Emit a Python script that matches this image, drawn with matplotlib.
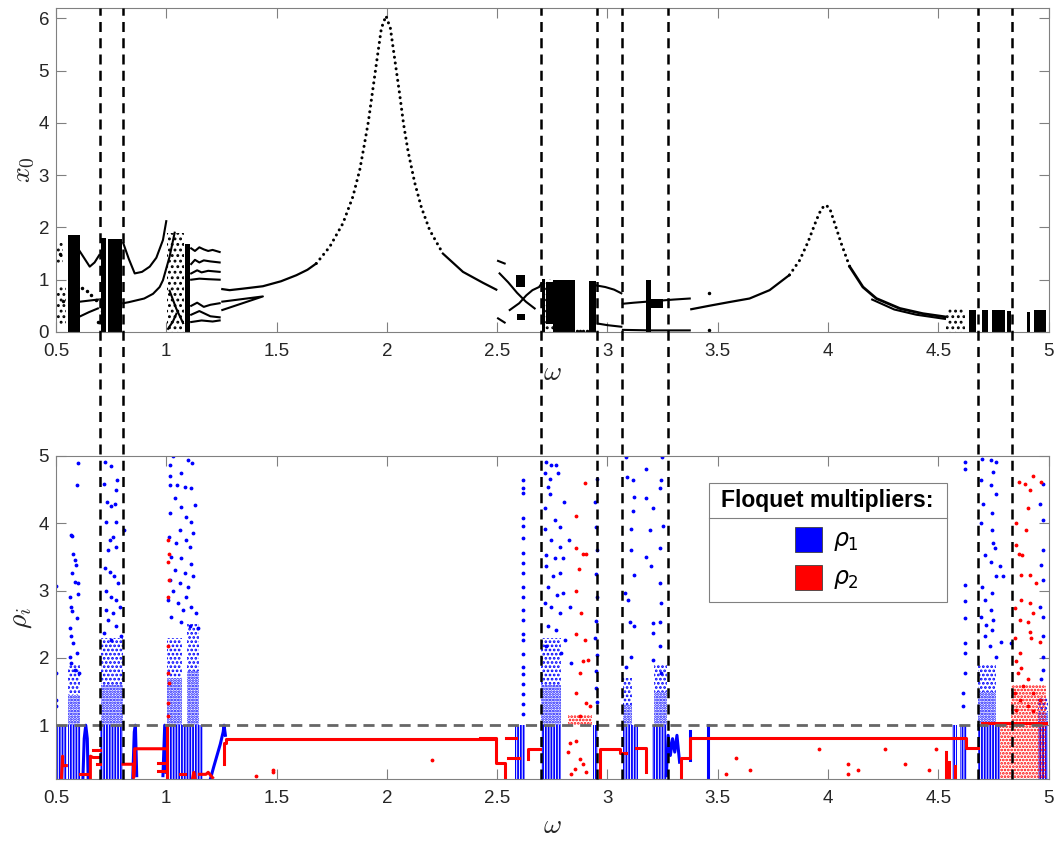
import matplotlib.pyplot as plt
from matplotlib.lines import Line2D
from matplotlib.patches import Rectangle
from matplotlib.transforms import blended_transform_factory

plt.rcParams['font.family'] = ['Liberation Sans', 'DejaVu Sans']
plt.rcParams['mathtext.fontset'] = 'cm'
plt.rcParams['hatch.linewidth'] = 1.3

# ---------------- top panel: x0 versus omega ----------------
# main resonance branch around omega = 2
res1_w = [1.254, 1.287, 1.35, 1.438, 1.52, 1.590, 1.640, 1.680, 1.741, 1.801, 1.846, 1.877,
          1.896, 1.916, 1.936, 1.957, 1.975, 1.996, 2.016, 2.035, 2.057, 2.076, 2.096, 2.126,
          2.156, 2.194, 2.254, 2.345, 2.436, 2.496]
res1_x = [0.82, 0.80, 0.83, 0.875, 0.97, 1.086, 1.19, 1.31, 1.63, 2.08, 2.59, 3.10,
          3.54, 4.02, 4.63, 5.27, 5.81, 6.05, 5.81, 5.24, 4.58, 3.97, 3.46, 2.86,
          2.39, 1.95, 1.50, 1.15, 0.94, 0.81]
# resonance branch around omega = 4
res2_w = [3.380, 3.46, 3.55, 3.644, 3.735, 3.825, 3.871, 3.909, 3.947, 3.970, 3.990, 4.008,
          4.030, 4.060, 4.098, 4.158, 4.219, 4.325, 4.430, 4.529]
res2_x = [0.435, 0.50, 0.57, 0.64, 0.80, 1.09, 1.37, 1.72, 2.14, 2.36, 2.43, 2.36,
          2.08, 1.69, 1.25, 0.86, 0.64, 0.45, 0.35, 0.29]

# smaller periodic branches (omega list, x0 list)
top_branches = [
    ([1.254, 1.438, 1.254], [0.58, 0.68, 0.42]),
    ([0.607, 0.63, 0.653, 0.675, 0.696], [1.55, 1.40, 1.25, 1.33, 1.47]),
    ([0.61, 0.65, 0.69], [0.58, 0.60, 0.62]),
    ([0.61, 0.65, 0.69], [0.30, 0.38, 0.45]),
    ([0.805, 0.83, 0.857, 0.89, 0.925, 0.955, 0.985, 1.0], [1.70, 1.40, 1.12, 1.15, 1.25, 1.42, 1.76, 2.12]),
    ([0.805, 0.83, 0.86, 0.90, 0.94, 0.97, 0.985, 1.015, 1.038], [0.55, 0.57, 0.60, 0.64, 0.73, 0.86, 0.99, 1.44, 1.90]),
    ([1.113, 1.13, 1.15, 1.17, 1.19, 1.21, 1.242], [1.60, 1.55, 1.62, 1.58, 1.55, 1.57, 1.53]),
    ([1.113, 1.13, 1.15, 1.17, 1.20, 1.242], [1.30, 1.38, 1.33, 1.37, 1.35, 1.33]),
    ([1.113, 1.14, 1.16, 1.19, 1.242], [1.12, 1.18, 1.14, 1.17, 1.15]),
    ([1.113, 1.15, 1.19, 1.242], [1.00, 1.02, 1.01, 1.00]),
    ([1.113, 1.14, 1.17, 1.20, 1.242], [0.50, 0.56, 0.48, 0.52, 0.55]),
    ([1.113, 1.15, 1.20, 1.242], [0.33, 0.40, 0.30, 0.28]),
    ([1.113, 1.16, 1.21, 1.242], [0.19, 0.22, 0.20, 0.22]),
    ([1.008, 1.03, 1.046], [0.06, 0.20, 0.35]),
    ([1.015, 1.045, 1.076], [0.79, 0.45, 0.17]),
    ([2.504, 2.534], [1.36, 1.31]),
    ([2.504, 2.534], [0.26, 0.18]),
    ([2.511, 2.55, 2.59, 2.63, 2.67], [1.12, 0.95, 0.75, 0.58, 0.45]),
    ([2.557, 2.60, 2.632, 2.66, 2.69, 2.70], [0.42, 0.55, 0.70, 0.80, 0.86, 0.92]),
    ([2.950, 2.99, 3.03, 3.063], [0.89, 0.86, 0.81, 0.74]),
    ([2.957, 3.00, 3.063], [0.16, 0.13, 0.10]),
    ([3.070, 3.12, 3.18, 3.24, 3.30, 3.373], [0.54, 0.56, 0.58, 0.60, 0.62, 0.64]),
    ([3.070, 3.20, 3.373], [0.04, 0.03, 0.03]),
    ([4.20, 4.30, 4.40, 4.53], [0.62, 0.43, 0.33, 0.25]),
]

# chaotic bands drawn solid: (omega start, omega end, x0 low, x0 high)
top_blocks = [
    (0.554, 0.607, 0.0, 1.85), (0.703, 0.728, 0.0, 1.80), (0.736, 0.800, 0.0, 1.78),
    (1.083, 1.106, 0.0, 1.69), (2.705, 2.716, 0.0, 1.02), (2.722, 2.753, 0.15, 0.95),
    (2.753, 2.851, 0.0, 1.00), (2.916, 2.950, 0.0, 0.97), (3.175, 3.198, 0.0, 1.00),
    (3.198, 3.25, 0.45, 0.64), (2.587, 2.625, 0.86, 1.09), (2.590, 2.625, 0.22, 0.35),
    (4.64, 4.67, 0.0, 0.42), (4.70, 4.725, 0.0, 0.42), (4.745, 4.80, 0.0, 0.42),
    (4.812, 4.828, 0.0, 0.40), (4.90, 4.915, 0.0, 0.38), (4.935, 4.99, 0.0, 0.42),
]
# looser clouds of points
top_clouds = [
    (0.497, 0.530, 1.30, 1.75), (0.497, 0.545, 0.15, 0.90), (1.005, 1.080, 0.0, 1.90),
    (4.536, 4.620, 0.0, 0.45), (2.716, 2.753, 0.0, 1.02),
]
top_pts_w = [3.46, 3.46, 2.86, 2.875, 2.89, 2.905, 0.62, 0.64, 0.66, 0.68, 0.69, 0.71, 0.52, 0.53]
top_pts_x = [0.75, 0.03, 0.02, 0.02, 0.02, 0.02, 0.85, 0.78, 0.70, 0.62, 0.20, 0.40, 1.50, 0.60]

# separating omega values (dashed verticals through both panels)
split_w = [0.701, 0.802, 2.700, 2.954, 3.066, 3.274, 4.680, 4.834]

# ---------------- bottom panel: Floquet multipliers ----------------
red_lines = [
    ([0.525, 0.53, 0.53, 0.547], [0.22, 0.54, 0.40, 0.40]),
    ([0.607, 0.645], [0.28, 0.28]),
    ([0.656, 0.656, 0.668, 0.698], [0.22, 0.54, 0.52, 0.52]),
    ([0.668, 0.698], [0.63, 0.63]),
    ([0.685, 0.698], [0.42, 0.42]),
    ([0.804, 0.852, 0.852, 0.857, 0.857, 0.993], [0.42, 0.42, 0.22, 0.42, 0.65, 0.65]),
    ([0.962, 0.997], [0.44, 0.44]),
    ([0.962, 0.997], [0.32, 0.32]),
    ([1.005, 1.005], [0.22, 1.00]),
    ([1.06, 1.085], [0.27, 0.27]),
    ([1.12, 1.125, 1.13], [0.22, 0.30, 0.22]),
    ([1.15, 1.18, 1.19, 1.21], [0.27, 0.27, 0.30, 0.22]),
    ([1.26, 1.26, 1.272, 1.272, 2.496], [0.42, 0.74, 0.74, 0.80, 0.80]),
    ([2.42, 2.496, 2.496, 2.534, 2.534], [0.81, 0.81, 0.44, 0.44, 0.22]),
    ([2.542, 2.587], [0.81, 0.81]),
    ([2.55, 2.60], [0.52, 0.52]),
    ([2.64, 2.64, 2.693], [0.50, 0.64, 0.64]),
    ([2.965, 2.965, 3.055, 3.055, 3.085], [0.22, 0.64, 0.64, 0.58, 0.58]),
    ([3.131, 3.176, 3.176], [0.66, 0.66, 0.30]),
    ([3.335, 3.335, 3.372, 3.372, 4.551], [0.22, 0.52, 0.52, 0.81, 0.81]),
    ([4.566, 4.627, 4.627, 4.68], [0.81, 0.81, 0.66, 0.66]),
    ([4.536, 4.536], [0.22, 0.60]),
    ([4.55, 4.55], [0.22, 0.45]),
    ([4.575, 4.575], [0.22, 0.40]),
    ([4.70, 4.99], [1.03, 1.03]),
]
blue_lines = [
    ([0.622, 0.628, 0.635, 0.642, 0.646], [0.2, 0.8, 1.0, 0.8, 0.2]),
    ([0.848, 0.855, 0.860, 0.866], [0.2, 0.9, 1.0, 0.25]),
    ([0.985, 0.993, 1.0], [0.25, 1.0, 0.3]),
    ([1.20, 1.215, 1.23, 1.245, 1.258, 1.262, 1.268], [0.2, 0.38, 0.55, 0.72, 0.9, 1.0, 0.85]),
    ([3.267, 3.275, 3.285, 3.295, 3.305, 3.315, 3.327], [0.25, 0.85, 0.55, 0.80, 0.60, 0.85, 0.45]),
    ([3.373, 3.373], [0.49, 0.91]),
    ([3.456, 3.456], [0.22, 1.0]),
]
# dense clouds of multipliers: (omega start, omega end, rho low, rho high)
blue_dense = [
    (0.497, 0.548, 0.2, 1.0), (0.553, 0.612, 0.2, 1.0), (0.700, 0.805, 0.2, 1.0),
    (1.008, 1.165, 0.2, 1.0), (2.58, 2.625, 0.2, 1.0), (2.70, 2.79, 0.2, 1.0),
    (2.935, 2.958, 0.2, 1.0), (3.07, 3.14, 0.2, 1.0), (3.20, 3.27, 0.2, 1.0),
    (4.56, 4.585, 0.2, 1.0), (4.60, 4.63, 0.2, 1.0), (4.68, 4.78, 0.2, 1.0),
    (4.95, 4.995, 0.2, 1.0),
    (0.555, 0.61, 1.0, 1.45), (0.705, 0.805, 1.0, 1.6), (1.005, 1.07, 1.0, 1.7),
    (1.095, 1.15, 1.0, 1.8), (2.70, 2.79, 1.0, 1.6), (3.07, 3.11, 1.0, 1.3),
    (3.21, 3.27, 1.0, 1.5), (4.68, 4.76, 1.0, 1.5), (4.95, 4.995, 1.0, 1.2),
]
blue_sparse = [
    (0.555, 0.61, 1.45, 1.9), (0.705, 0.805, 1.6, 2.3), (1.005, 1.07, 1.7, 2.3),
    (1.095, 1.15, 1.8, 2.5), (2.70, 2.79, 1.6, 2.3), (3.07, 3.11, 1.3, 1.7),
    (3.21, 3.27, 1.5, 1.9), (4.68, 4.76, 1.5, 1.9), (4.95, 4.995, 1.2, 1.4),
]
red_dense = [(2.82, 2.93, 1.0, 1.15), (4.78, 4.99, 0.2, 1.0), (4.83, 4.99, 1.0, 1.6)]

blue_pts = [
    (0.5015, 3.07), (0.5015, 1.78), (0.5015, 1.38), (0.5015, 1.28),
    (0.600, 4.90), (0.597, 4.57), (0.570, 3.83), (0.574, 3.81), (0.577, 3.55), (0.585, 3.45),
    (0.589, 3.38), (0.574, 3.26), (0.585, 3.13), (0.600, 3.11), (0.562, 2.91), (0.601, 2.95),
    (0.566, 2.76), (0.574, 2.69), (0.597, 2.59), (0.565, 2.44), (0.570, 2.32), (0.577, 2.22),
    (0.595, 2.07), (0.562, 2.02), (0.570, 1.92), (0.585, 1.82), (0.604, 1.78),
    (0.721, 4.91), (0.748, 4.85), (0.716, 4.59), (0.777, 4.64), (0.774, 4.49), (0.808, 3.90),
    (0.733, 4.32), (0.751, 4.25), (0.766, 4.29), (0.728, 4.02), (0.770, 4.02), (0.743, 3.75),
    (0.758, 3.80), (0.736, 3.60), (0.774, 3.65), (0.721, 3.33), (0.745, 3.28), (0.761, 3.21),
    (0.781, 3.11), (0.728, 2.99), (0.751, 2.91), (0.770, 2.86), (0.789, 2.76), (0.725, 2.71),
    (0.758, 2.66), (0.736, 2.57), (0.774, 2.47), (0.716, 2.37), (0.796, 2.32), (0.751, 2.27),
    (1.015, 4.86), (1.030, 5.0), (1.098, 4.94), (1.118, 4.89), (1.068, 4.74), (1.015, 4.71),
    (1.018, 4.57), (1.048, 4.57), (1.083, 4.54), (1.114, 4.52), (1.132, 4.27), (1.038, 4.37),
    (1.068, 4.24), (1.015, 4.15), (1.091, 4.10), (1.114, 4.02), (1.061, 3.90), (1.012, 3.80),
    (1.121, 3.85), (1.091, 3.75), (1.045, 3.70), (1.106, 3.65), (1.023, 3.50), (1.068, 3.48),
    (1.114, 3.40), (1.038, 3.31), (1.083, 3.26), (1.121, 3.21), (1.015, 3.16), (1.061, 3.11),
    (1.098, 3.06), (1.030, 2.99), (1.091, 2.91), (1.008, 2.86), (1.053, 2.81), (1.114, 2.76),
    (1.076, 2.71), (1.023, 2.61), (1.136, 2.66), (1.068, 2.54), (1.106, 2.47), (1.144, 2.44),
    (2.617, 4.65), (2.617, 4.52), (2.617, 4.45), (2.617, 4.08), (2.617, 3.96), (2.617, 3.78),
    (2.617, 3.56), (2.617, 3.41), (2.617, 3.26), (2.617, 3.06), (2.617, 2.91), (2.617, 2.71),
    (2.617, 2.56), (2.617, 2.36), (2.617, 2.26), (2.617, 2.06), (2.617, 1.86), (2.617, 1.76),
    (2.617, 1.61), (2.617, 1.46), (2.617, 1.31), (2.617, 1.16),
    (2.723, 4.91), (2.746, 4.86), (2.768, 4.86), (2.715, 4.74), (2.738, 4.66), (2.730, 4.54),
    (2.776, 4.74), (2.738, 4.44), (2.801, 4.32), (2.715, 4.22), (2.761, 4.05), (2.783, 3.95),
    (2.715, 3.92), (2.746, 3.75), (2.786, 3.65), (2.824, 3.75), (2.720, 3.53), (2.761, 3.48),
    (2.798, 3.48), (2.723, 3.36), (2.753, 3.21), (2.783, 3.26), (2.730, 3.06), (2.771, 2.94),
    (2.798, 2.96), (2.715, 2.81), (2.746, 2.76), (2.783, 2.66), (2.730, 2.47), (2.765, 2.42),
    (2.829, 2.76), (2.806, 2.27), (2.723, 2.17), (2.791, 2.07), (2.836, 1.92),
    (2.952, 4.66), (2.945, 4.32), (2.950, 3.95), (2.952, 3.60), (2.948, 3.25), (2.952, 2.90),
    (2.950, 2.55), (2.945, 2.30), (2.952, 2.05), (2.950, 1.80), (2.948, 1.55), (2.952, 1.35),
    (3.086, 4.99), (3.176, 4.81), (3.249, 4.99), (3.089, 4.69), (3.116, 4.64), (3.244, 4.64),
    (3.176, 4.37), (3.237, 4.52), (3.120, 4.39), (3.116, 4.19), (3.206, 4.22), (3.252, 3.96),
    (3.191, 3.90), (3.105, 3.92), (3.108, 3.60), (3.176, 3.50), (3.237, 3.63), (3.199, 3.36),
    (3.119, 3.23), (3.237, 3.11), (3.244, 2.81), (3.078, 2.96), (3.093, 2.86), (3.101, 2.54),
    (3.119, 2.47), (3.206, 2.52), (3.237, 2.54), (3.206, 2.37), (3.237, 2.17), (3.108, 2.02),
    (3.206, 1.97), (3.083, 1.87), (3.244, 1.78),
    (4.619, 4.91), (4.619, 4.81), (4.619, 3.08), (4.619, 2.84), (4.619, 2.59), (4.619, 2.22),
    (4.619, 2.07), (4.619, 1.78), (4.612, 1.48), (4.612, 1.28),
    (4.699, 4.96), (4.740, 4.94), (4.763, 4.91), (4.748, 4.76), (4.695, 4.64), (4.740, 4.57),
    (4.763, 4.44), (4.702, 4.29), (4.745, 4.15), (4.695, 4.00), (4.745, 3.90), (4.748, 3.70),
    (4.755, 3.63), (4.710, 3.53), (4.740, 3.43), (4.778, 3.36), (4.760, 3.21), (4.793, 3.21),
    (4.699, 3.06), (4.745, 2.96), (4.710, 2.86), (4.740, 2.71), (4.695, 2.61), (4.748, 2.57),
    (4.717, 2.49), (4.745, 2.42), (4.785, 2.24), (4.710, 2.32), (4.732, 2.17), (4.831, 2.22),
    (4.763, 2.02),
    (4.974, 4.59), (4.974, 4.05), (4.959, 4.29), (4.974, 3.60), (4.967, 3.38), (4.974, 3.16),
    (4.959, 2.76), (4.974, 2.61), (4.974, 2.32), (4.974, 2.02), (4.974, 1.82), (4.967, 1.68),
    (4.959, 1.38),
]
red_pts = [
    (1.008, 3.75), (1.011, 3.55), (1.008, 3.43), (1.012, 3.16), (1.008, 2.91), (1.010, 2.17),
    (1.008, 1.78), (1.011, 1.63), (1.008, 1.33), (1.008, 1.13),
    (1.408, 0.24), (1.484, 0.30), (1.484, 0.34), (2.203, 0.49),
    (2.897, 4.60), (2.859, 4.11), (2.859, 3.64), (2.889, 3.55), (2.901, 3.55), (2.871, 3.32),
    (2.859, 3.00), (2.879, 2.66), (2.856, 2.35), (2.897, 2.27), (2.889, 1.96), (2.912, 1.97),
    (2.874, 1.78), (2.859, 1.48), (2.904, 1.33), (2.919, 1.28), (2.874, 1.13),
    (2.829, 0.74), (2.859, 0.76), (2.821, 0.60), (2.874, 0.50), (2.851, 0.35), (2.889, 0.42),
    (2.904, 0.30), (2.836, 0.28),
    (3.584, 0.52), (3.539, 0.27), (3.645, 0.33), (3.959, 0.64), (4.090, 0.42), (4.090, 0.27),
    (4.136, 0.33), (4.257, 0.64), (4.347, 0.42), (4.457, 0.33), (4.491, 0.64),
    (4.929, 4.70), (4.866, 4.61), (4.891, 4.59), (4.914, 4.49), (4.967, 4.61), (4.906, 4.22),
    (4.896, 3.90), (4.850, 4.00), (4.866, 3.55), (4.881, 3.53), (4.876, 3.23), (4.914, 3.23),
    (4.853, 3.68), (4.944, 3.11), (4.876, 2.86), (4.914, 2.81), (4.846, 2.74), (4.929, 2.66),
    (4.869, 2.57), (4.906, 2.54), (4.914, 2.39), (4.846, 2.29), (4.921, 2.29), (4.959, 2.24),
    (4.869, 2.07), (4.850, 1.95), (4.876, 1.85), (4.861, 1.78), (4.906, 1.68), (4.884, 1.58),
    (4.846, 1.48), (4.929, 1.48), (4.869, 1.38), (4.959, 1.38), (4.906, 1.28), (4.853, 1.23),
    (4.929, 1.21),
]

BLUE = '#0000ff'
RED = '#ff0000'
AXC = '#808080'
TXT = '#262626'

fig = plt.figure(figsize=(10.6, 8.49), dpi=100)
ax1 = fig.add_axes([0.0528, 0.6090, 0.9365, 0.3816])
ax2 = fig.add_axes([0.0528, 0.0824, 0.9365, 0.3805])

for ax in (ax1, ax2):
    ax.set_xlim(0.5, 5)
    ax.set_xticks([0.5, 1, 1.5, 2, 2.5, 3, 3.5, 4, 4.5, 5])
    ax.set_xticklabels(['0.5', '1', '1.5', '2', '2.5', '3', '3.5', '4', '4.5', '5'])
    ax.tick_params(direction='in', top=True, right=True, length=7, width=0.8,
                   color=AXC, labelcolor=TXT, labelsize=13.5)
    ax.tick_params(axis='x', pad=8)
    ax.tick_params(axis='y', pad=5)
    for s in ax.spines.values():
        s.set_color(AXC)
        s.set_linewidth(0.8)

# ---- top panel ----
ax1.set_ylim(0, 6.2)
ax1.set_yticks([0, 1, 2, 3, 4, 5, 6])
steep1 = [i for i, v in enumerate(res1_x) if v >= 1.3]
ax1.plot(res1_w[:8], res1_x[:8], color='k', lw=1.6)
ax1.plot(res1_w[steep1[0]:steep1[-1] + 1], res1_x[steep1[0]:steep1[-1] + 1], color='k', lw=2.2,
         ls=(0, (0.01, 1.9)), dash_capstyle='round')
ax1.plot(res1_w[steep1[-1]:], res1_x[steep1[-1]:], color='k', lw=1.6)
ax1.plot(res2_w[:6], res2_x[:6], color='k', lw=1.6)
ax1.plot(res2_w[5:15], res2_x[5:15], color='k', lw=2.2, ls=(0, (0.01, 1.9)), dash_capstyle='round')
ax1.plot(res2_w[14:], res2_x[14:], color='k', lw=2.0)
for bw, bx in top_branches:
    ax1.plot(bw, bx, color='k', lw=1.5)
for w0, w1, lo, hi in top_blocks:
    ax1.bar(w0, hi - lo, width=w1 - w0, bottom=lo, align='edge', color='k', linewidth=0)
for w0, w1, lo, hi in top_clouds:
    ax1.bar(w0, hi - lo, width=w1 - w0, bottom=lo, align='edge', fill=False,
            edgecolor='k', hatch='...', linewidth=0)
ax1.plot(top_pts_w, top_pts_x, 'k.', ms=3)
ax1.set_ylabel(r'$x_0$', fontsize=20, color=TXT, labelpad=1)
ax1.set_xlabel(r'$\omega$', fontsize=20, color=TXT, labelpad=0)

# ---- bottom panel ----
ax2.set_ylim(0.2, 5)
ax2.set_yticks([1, 2, 3, 4, 5])
for w0, w1, lo, hi in blue_dense:
    ax2.bar(w0, hi - lo, width=w1 - w0, bottom=lo, align='edge', fill=False,
            edgecolor=BLUE, hatch='||||||' if hi <= 1.0 else '......', linewidth=0)
for w0, w1, lo, hi in blue_sparse:
    ax2.bar(w0, hi - lo, width=w1 - w0, bottom=lo, align='edge', fill=False,
            edgecolor=BLUE, hatch='....', linewidth=0)
for w0, w1, lo, hi in red_dense:
    ax2.bar(w0, hi - lo, width=w1 - w0, bottom=lo, align='edge', fill=False,
            edgecolor=RED, hatch='.....', linewidth=0)
for bw, br in blue_lines:
    ax2.plot(bw, br, color=BLUE, lw=2.2)
ax2.plot([p[0] for p in blue_pts], [p[1] for p in blue_pts], '.', color=BLUE, ms=3.5)
for rw, rr in red_lines:
    ax2.plot(rw, rr, color=RED, lw=2.2)
ax2.plot([p[0] for p in red_pts], [p[1] for p in red_pts], '.', color=RED, ms=3.5)
ax2.axhline(1.0, color='#666666', lw=2, ls=(0, (4, 2.5)), zorder=5)
ax2.set_ylabel(r'$\rho_i$', fontsize=20, color=TXT, labelpad=3)
ax2.set_xlabel(r'$\omega$', fontsize=20, color=TXT, labelpad=4)

# legend drawn as a framed box with a title row
ax2.add_patch(Rectangle((0.6575, 0.548), 0.2397, 0.368, transform=ax2.transAxes,
                        facecolor='white', edgecolor=AXC, lw=0.8, zorder=10))
ax2.add_line(Line2D([0.6575, 0.8972], [0.809, 0.809], transform=ax2.transAxes,
                    color=AXC, lw=0.8, zorder=11))
ax2.text(0.7773, 0.862, 'Floquet multipliers:', transform=ax2.transAxes, ha='center',
         va='center', fontsize=16.5, fontweight='bold', zorder=12)
ax2.add_patch(Rectangle((0.7448, 0.704), 0.0272, 0.075, transform=ax2.transAxes,
                        facecolor=BLUE, edgecolor='#404040', lw=0.6, zorder=12))
ax2.add_patch(Rectangle((0.7448, 0.585), 0.0272, 0.078, transform=ax2.transAxes,
                        facecolor=RED, edgecolor='#404040', lw=0.6, zorder=12))
ax2.text(0.783, 0.735, r'$\rho_1$', transform=ax2.transAxes, va='center', fontsize=17,
         math_fontfamily='dejavusans', zorder=12)
ax2.text(0.783, 0.618, r'$\rho_2$', transform=ax2.transAxes, va='center', fontsize=17,
         math_fontfamily='dejavusans', zorder=12)

# dashed separators spanning both panels
tr = blended_transform_factory(ax1.transData, fig.transFigure)
for w in split_w:
    fig.add_artist(Line2D([w, w], [0.0824, 0.9906], transform=tr, color='k', lw=1.8,
                          ls=(0, (4, 2.5)), zorder=20))

fig.savefig('out.png', dpi=100)
